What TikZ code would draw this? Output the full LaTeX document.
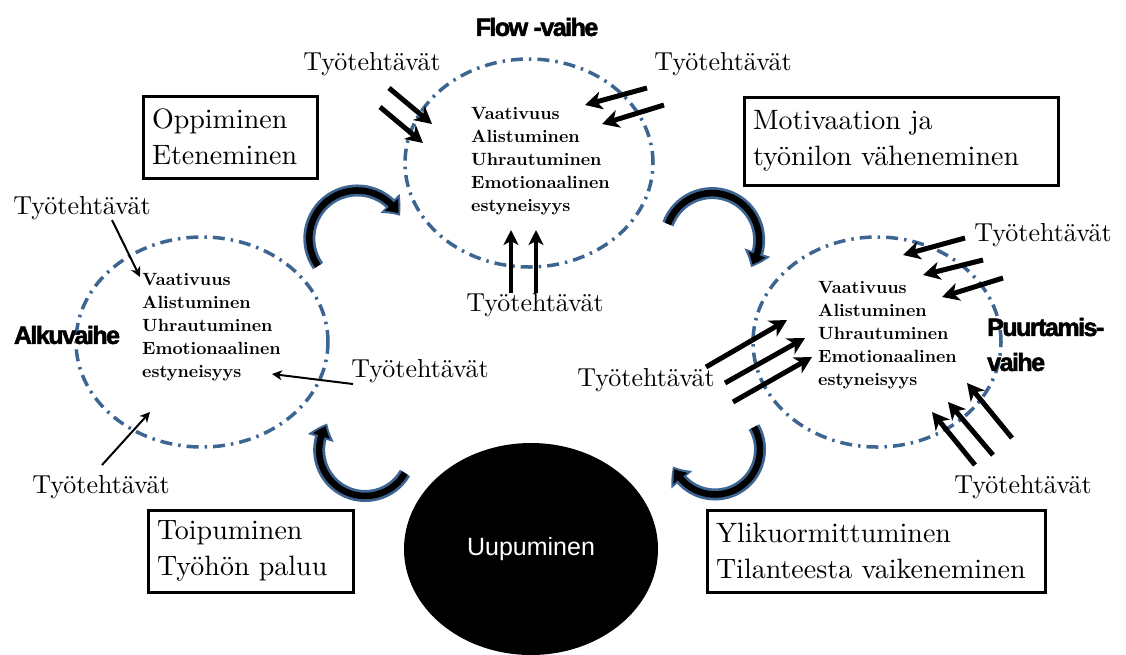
\documentclass[tikz,border=0pt]{standalone}
\usepackage{fontspec}
\setmainfont{lmroman10-regular.otf}[BoldFont=lmroman10-bold.otf]
\usetikzlibrary{arrows.meta,bending,shapes.geometric}
\newfontfamily\headfont[LetterSpace=-6,BoldFeatures={FakeBold=2}]{Liberation Sans}
\newfontfamily\uufont{Liberation Sans}
\definecolor{ringblue}{HTML}{3D6592}
\begin{document}
\begin{tikzpicture}[x=1pt,y=1pt,
  ring/.style={draw=ringblue, line width=3.5pt, dash pattern=on 12pt off 6pt on 2.5pt off 6pt, ellipse, inner sep=0pt},
  inlist/.style={anchor=north west, inner sep=0pt, align=left, font=\bfseries\fontsize{17.7}{23}\selectfont},
  task/.style={inner sep=0pt, font=\fontsize{26}{30}\selectfont},
  phase/.style={inner sep=0pt, font=\headfont\bfseries\fontsize{25}{29}\selectfont},
  box/.style={draw, line width=3pt, inner sep=9pt, align=left, font=\fontsize{28}{36}\selectfont},
  thick arrow/.style={line width=5pt, -{Stealth[length=17pt,width=18pt,inset=5pt]}},
  mid arrow/.style={line width=4pt, -{Stealth[length=15pt,width=15pt,inset=4pt]}},
  thin arrow/.style={line width=2pt, -{Stealth[length=10pt,width=10pt,inset=3pt]}},
  cycleout/.style={draw=ringblue, line width=12pt, -{Triangle[length=16pt,width=26pt,bend]}},
  cyclein/.style={draw=black, line width=6.5pt, shorten >=3pt, -{Triangle[length=11pt,width=17pt,bend]}}
]
\useasboundingbox (0,0) rectangle (1126,-654);

% phase ellipses
\node[ring, minimum width=248pt, minimum height=208pt] (flow) at (529,-163) {};
\node[ring, minimum width=252pt, minimum height=210pt] (alku) at (202,-342) {};
\node[ring, minimum width=248pt, minimum height=210pt] (puur) at (877,-342) {};
\node[ellipse, fill=black, inner sep=0pt, minimum width=254pt, minimum height=212pt,
      text=white, font=\uufont\fontsize{25}{30}\selectfont] (uup) at (531,-549) {Uupuminen};

% lists
\node[inlist] (flowlist) at (471,-107) {Vaativuus\\Alistuminen\\Uhrautuminen\\Emotionaalinen\\estyneisyys};
\node[inlist] (alkulist) at (142,-273) {Vaativuus\\Alistuminen\\Uhrautuminen\\Emotionaalinen\\estyneisyys};
\node[inlist] (puurlist) at (818,-281) {Vaativuus\\Alistuminen\\Uhrautuminen\\Emotionaalinen\\estyneisyys};

% phase titles
\node[phase] (flowt) at (537,-27) {Flow -vaihe};
\node[phase] (alkut) at (67,-335) {Alkuvaihe};
\node[phase, anchor=west] (puurt1) at (987,-327) {Puurtamis-};
\node[phase, anchor=west] (puurt2) at (987,-362) {vaihe};

% boxes
\node[box, minimum width=174pt, minimum height=82pt, text width=156pt] (opp) at (230,-137) {Oppiminen\\Eteneminen};
\node[box, minimum width=314pt, minimum height=88pt, text width=296pt] (mot) at (901,-141) {Motivaation ja\\työnilon väheneminen};
\node[box, minimum width=205pt, minimum height=82pt, text width=187pt] (toi) at (250.5,-551) {Toipuminen\\Työhön paluu};
\node[box, minimum width=338pt, minimum height=82pt, text width=320pt] (yli) at (876,-551) {Ylikuormittuminen\\Tilanteesta vaikeneminen};

% task labels
\node[task] (tA) at (372,-64) {Työtehtävät};
\node[task] (tB) at (723,-64) {Työtehtävät};
\node[task] (tC) at (535,-305) {Työtehtävät};
\node[task] (tD) at (82,-208) {Työtehtävät};
\node[task] (tE) at (420,-371) {Työtehtävät};
\node[task] (tF) at (101,-487) {Työtehtävät};
\node[task] (tG) at (646,-380) {Työtehtävät};
\node[task] (tH) at (1043,-235) {Työtehtävät};
\node[task] (tI) at (1023,-487) {Työtehtävät};

% arrow end points
\coordinate (a1s) at (389,-88);  \coordinate (a1e) at (432,-124);
\coordinate (a2s) at (380,-107); \coordinate (a2e) at (423,-143);
\coordinate (b1s) at (647,-88);  \coordinate (b1e) at (585,-105);
\coordinate (b2s) at (664,-105); \coordinate (b2e) at (602,-124);
\coordinate (c1s) at (511,-293); \coordinate (c1e) at (511,-230);
\coordinate (c2s) at (536,-293); \coordinate (c2e) at (536,-230);
\coordinate (d1s) at (112,-220); \coordinate (d1e) at (140,-277);
\coordinate (e1s) at (353,-384); \coordinate (e1e) at (272,-374);
\coordinate (f1s) at (102,-465); \coordinate (f1e) at (150,-412);
\coordinate (h1s) at (965,-238); \coordinate (h1e) at (903,-255);
\coordinate (h2s) at (983,-260); \coordinate (h2e) at (923,-275);
\coordinate (h3s) at (1003,-278);\coordinate (h3e) at (942,-297);
\coordinate (g1s) at (706,-367); \coordinate (g1e) at (787,-320);
\coordinate (g2s) at (725,-383); \coordinate (g2e) at (805,-338);
\coordinate (g3s) at (733,-402); \coordinate (g3e) at (812,-357);
\coordinate (i1s) at (975,-465); \coordinate (i1e) at (932,-412);
\coordinate (i2s) at (993,-455); \coordinate (i2e) at (948,-402);
\coordinate (i3s) at (1012,-438);\coordinate (i3e) at (967,-383);

\draw[thick arrow] (a1s) -- (a1e);
\draw[thick arrow] (a2s) -- (a2e);
\draw[thick arrow] (b1s) -- (b1e);
\draw[thick arrow] (b2s) -- (b2e);
\draw[mid arrow] (c1s) -- (c1e);
\draw[mid arrow] (c2s) -- (c2e);
\draw[thin arrow] (d1s) -- (d1e);
\draw[thin arrow] (e1s) -- (e1e);
\draw[thin arrow] (f1s) -- (f1e);
\draw[thick arrow] (h1s) -- (h1e);
\draw[thick arrow] (h2s) -- (h2e);
\draw[thick arrow] (h3s) -- (h3e);
\draw[thick arrow] (g1s) -- (g1e);
\draw[thick arrow] (g2s) -- (g2e);
\draw[thick arrow] (g3s) -- (g3e);
\draw[thick arrow] (i1s) -- (i1e);
\draw[thick arrow] (i2s) -- (i2e);
\draw[thick arrow] (i3s) -- (i3e);

% cycle arrows
\coordinate (k1) at (318,-266);
\coordinate (k2) at (668,-224);
\coordinate (k3) at (405,-473);
\coordinate (k4) at (754,-427);
\draw[cycleout] (k1) arc[start angle=215, end angle=28, radius=48pt];
\draw[cyclein]  (k1) arc[start angle=215, end angle=28, radius=48pt];
\draw[cycleout] (k2) arc[start angle=160, end angle=-35, radius=47pt];
\draw[cyclein]  (k2) arc[start angle=160, end angle=-35, radius=47pt];
\draw[cycleout] (k3) arc[start angle=-30, end angle=-215, radius=46pt];
\draw[cyclein]  (k3) arc[start angle=-30, end angle=-215, radius=46pt];
\draw[cycleout] (k4) arc[start angle=30, end angle=-158, radius=45pt];
\draw[cyclein]  (k4) arc[start angle=30, end angle=-158, radius=45pt];
\end{tikzpicture}
\end{document}
